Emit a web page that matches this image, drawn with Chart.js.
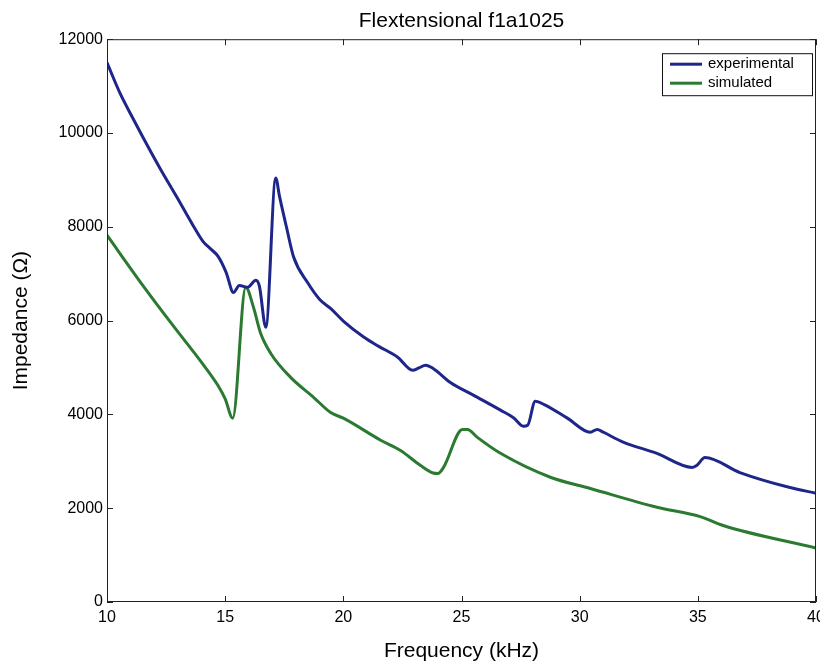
<!DOCTYPE html>
<html>
<head>
<meta charset="utf-8">
<script src="https://cdn.jsdelivr.net/npm/chart.js@4.4.1/dist/chart.umd.min.js"></script>
<style>
  html, body { margin: 0; padding: 0; background: #fff; }
  #wrap { width: 820px; height: 665px; position: relative; }
</style>
</head>
<body>
<div id="wrap"><canvas id="chart"></canvas></div>
<script>
// values (kHz, ohms)
const expFreq = [10, 10.55, 11.1, 11.52, 12.24, 12.96, 13.64, 14.06, 14.36, 14.7, 15.04, 15.35,
  15.6, 15.95, 16.3, 16.45, 16.72, 17.14, 17.3, 17.6, 17.9, 18.5, 19.0, 19.46, 20.0, 20.86,
  21.5, 22.3, 22.93, 23.2, 23.48, 23.8, 24.53, 25.5, 26.65, 27.2, 27.62, 27.8, 28.12, 28.5,
  29.48, 30.45, 30.74, 31.0, 31.84, 33.27, 34.76, 34.95, 35.3, 36.78, 38.9, 40];
const expImp = [11500, 10850, 10310, 9910, 9250, 8630, 8030, 7690, 7540, 7370, 7030, 6600,
  6750, 6710, 6860, 6730, 5860, 9040, 8650, 7980, 7350, 6800, 6450, 6260, 5990, 5650,
  5450, 5220, 4940, 4990, 5050, 4980, 4680, 4410, 4090, 3930, 3750, 3770, 4280, 4210,
  3920, 3620, 3680, 3620, 3410, 3170, 2870, 2910, 3080, 2760, 2440, 2320];

const simFreq = [10, 11.56, 12.83, 13.97, 14.69, 15.0, 15.32, 15.87, 16.2, 16.5, 16.93, 17.77,
  18.75, 19.46, 20.0, 21.58, 22.42, 23.27, 23.8, 24.0, 24.24, 25.04, 25.25, 25.67, 26.65,
  28.76, 30.45, 33.27, 35.1, 36.07, 40];
const simImp = [7820, 6720, 5870, 5130, 4620, 4330, 3920, 6710, 6280, 5730, 5300, 4790,
  4360, 4040, 3920, 3450, 3230, 2910, 2750, 2740, 2870, 3680, 3680, 3510, 3170,
  2660, 2420, 2020, 1820, 1630, 1150];

const xTicks = [10, 15, 20, 25, 30, 35, 40];
const yTicks = [0, 2000, 4000, 6000, 8000, 10000, 12000];

const FONT = "'Liberation Sans', Arial, sans-serif";
const EXP_COLOR = '#1f268a';
const SIM_COLOR = '#2a7a31';

function points(xs, ys) { return xs.map((x, i) => ({ x, y: ys[i] })); }

// MATLAB style box: frame plus short inward ticks on all four sides
const boxPlugin = {
  id: 'box',
  afterDatasetsDraw(chart) {
    const { ctx, chartArea: a, scales: { x, y } } = chart;
    ctx.save();
    ctx.strokeStyle = '#222';
    ctx.lineWidth = 1;
    ctx.strokeRect(a.left + 0.5, a.top + 0.5, a.right - a.left - 1, a.bottom - a.top - 1);
    ctx.beginPath();
    for (const v of xTicks) {
      const px = Math.round(x.getPixelForValue(v)) + 0.5;
      ctx.moveTo(px, a.bottom); ctx.lineTo(px, a.bottom - 6);
      ctx.moveTo(px, a.top); ctx.lineTo(px, a.top + 6);
    }
    for (const v of yTicks) {
      const py = Math.round(y.getPixelForValue(v)) + 0.5;
      ctx.moveTo(a.left, py); ctx.lineTo(a.left + 6, py);
      ctx.moveTo(a.right, py); ctx.lineTo(a.right - 6, py);
    }
    ctx.stroke();
    ctx.restore();
  },
  afterDraw(chart) {
    // legend box inside the top right corner
    const { ctx, chartArea: a } = chart;
    const w = 150, h = 42;
    const bx = a.right - w - 4, by = a.top + 14;
    ctx.save();
    ctx.fillStyle = '#fff';
    ctx.fillRect(bx, by, w, h);
    ctx.strokeStyle = '#111';
    ctx.lineWidth = 1;
    ctx.strokeRect(bx + 0.5, by + 0.5, w, h);
    ctx.font = '15px ' + FONT;
    ctx.textBaseline = 'middle';
    chart.data.datasets.forEach((ds, i) => {
      const ly = by + 11 + i * 19;
      ctx.strokeStyle = ds.borderColor;
      ctx.lineWidth = 3;
      ctx.beginPath();
      ctx.moveTo(bx + 8, ly); ctx.lineTo(bx + 40, ly);
      ctx.stroke();
      ctx.fillStyle = '#000';
      ctx.fillText(ds.label, bx + 46, ly);
    });
    ctx.restore();
  }
};

new Chart(document.getElementById('chart'), {
  type: 'line',
  data: {
    datasets: [
      { label: 'experimental', data: points(expFreq, expImp), borderColor: EXP_COLOR,
        borderWidth: 3, pointRadius: 0, cubicInterpolationMode: 'monotone' },
      { label: 'simulated', data: points(simFreq, simImp), borderColor: SIM_COLOR,
        borderWidth: 3, pointRadius: 0, cubicInterpolationMode: 'monotone' },
    ]
  },
  options: {
    responsive: true, maintainAspectRatio: false, animation: false,
    layout: { padding: { left: 0, right: 4, top: 0, bottom: 0 } },
    plugins: {
      legend: { display: false },
      tooltip: { enabled: false },
      title: {
        display: true, text: 'Flextensional f1a1025', fullSize: false, color: '#000',
        font: { family: FONT, size: 21, weight: 'normal' }, padding: { top: 9, bottom: 5 }
      }
    },
    scales: {
      x: {
        type: 'linear', min: 10, max: 40,
        afterBuildTicks: s => { s.ticks = xTicks.map(v => ({ value: v })); },
        afterFit: s => { s.height = 63; s.paddingRight = 0; s.paddingLeft = 0; },
        grid: { display: false, drawTicks: false },
        border: { display: false },
        ticks: { color: '#000', padding: 6, maxRotation: 0, font: { family: FONT, size: 16 },
                 callback: v => String(v) },
        title: { display: true, text: 'Frequency (kHz)', color: '#000',
                 font: { family: FONT, size: 21 }, padding: { top: 0, bottom: 1 } }
      },
      y: {
        min: 0, max: 12000,
        afterBuildTicks: s => { s.ticks = yTicks.map(v => ({ value: v })); },
        afterFit: s => { s.width = 107; },
        grid: { display: false, drawTicks: false },
        border: { display: false },
        ticks: { color: '#000', padding: 4, font: { family: FONT, size: 16 },
                 callback: v => String(v) },
        title: { display: true, text: 'Impedance (Ω)', color: '#000',
                 font: { family: FONT, size: 21 }, padding: { top: 9, bottom: 0 } }
      }
    }
  },
  plugins: [boxPlugin]
});
</script>
</body>
</html>
